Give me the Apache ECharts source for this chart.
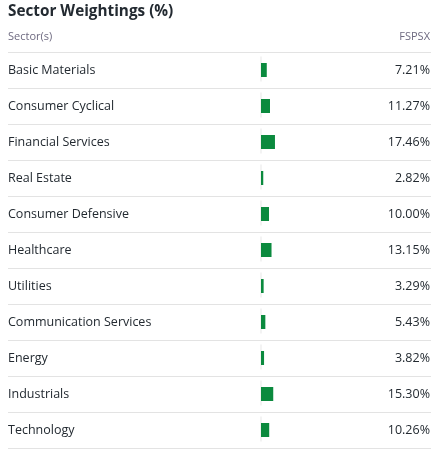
<!DOCTYPE html>
<html><head><meta charset="utf-8">
<script src="https://cdn.jsdelivr.net/npm/echarts@6/dist/echarts.min.js"></script>
<style>html,body{margin:0;padding:0;background:#fff}#c{width:439px;height:462px}</style>
</head><body><div id="c"></div>
<script>
const sectors = ["Basic Materials","Consumer Cyclical","Financial Services","Real Estate","Consumer Defensive","Healthcare","Utilities","Communication Services","Energy","Industrials","Technology"];
const weights = [7.21,11.27,17.46,2.82,10.00,13.15,3.29,5.43,3.82,15.30,10.26];
const fundName = "FSPSX";

const FONT = "'Open Sans', sans-serif";
const chart = echarts.init(document.getElementById('c'), null, {renderer:'canvas'});
const gridLeft = 8, gridRight = 431, zeroX = 261, pxPer = 0.8;
chart.setOption({
  animation:false,
  title:[
    {text:"Sector Weightings (%)", left:8, top:4, padding:0, textStyle:{fontFamily:FONT,fontSize:15.3,fontWeight:'bold',color:'#232a31'}},
    {text:"Sector(s)", left:8, top:31, padding:0, textStyle:{fontFamily:FONT,fontSize:11,fontWeight:'normal',color:'#6e6a80'}},
    {text:fundName, right:9, top:31, padding:0, textStyle:{fontFamily:FONT,fontSize:11,fontWeight:'normal',color:'#6e6a80'}}
  ],
  grid:{left:gridLeft, right:439-gridRight, top:52, height:396, containLabel:false},
  xAxis:{type:'value', min:-(zeroX-gridLeft)/pxPer, max:(gridRight-zeroX)/pxPer, show:false},
  yAxis:[
    {type:'category', data:sectors, inverse:true, position:'left',
     axisLine:{show:false}, axisTick:{show:false},
     axisLabel:{inside:true, margin:0, align:'left', padding:[5,0,0,0], fontFamily:FONT, fontSize:12.5, color:'#232a31'},
     splitLine:{show:true, showMinLine:true, showMaxLine:true, lineStyle:{color:'#e3e3e3', width:1}}},
    {type:'category', data:sectors, inverse:true, position:'right',
     axisLine:{show:false}, axisTick:{show:false}, splitLine:{show:false},
     axisLabel:{inside:true, margin:1, align:'right', padding:[5,0,0,0], fontFamily:FONT, fontSize:12.5, color:'#232a31',
       formatter:(v, i)=>weights[i].toFixed(2)+'%'}}
  ],
  series:[
    {type:'scatter', data:sectors.map(()=>0), symbol:'rect', symbolSize:[1,25], symbolOffset:[0,-1],
     itemStyle:{color:'#e0e0e0'}, silent:true, z:1},
    {type:'bar', data:weights, barWidth:14, itemStyle:{color:'#0b8a3e'}, z:2}
  ]
});
</script></body></html>
